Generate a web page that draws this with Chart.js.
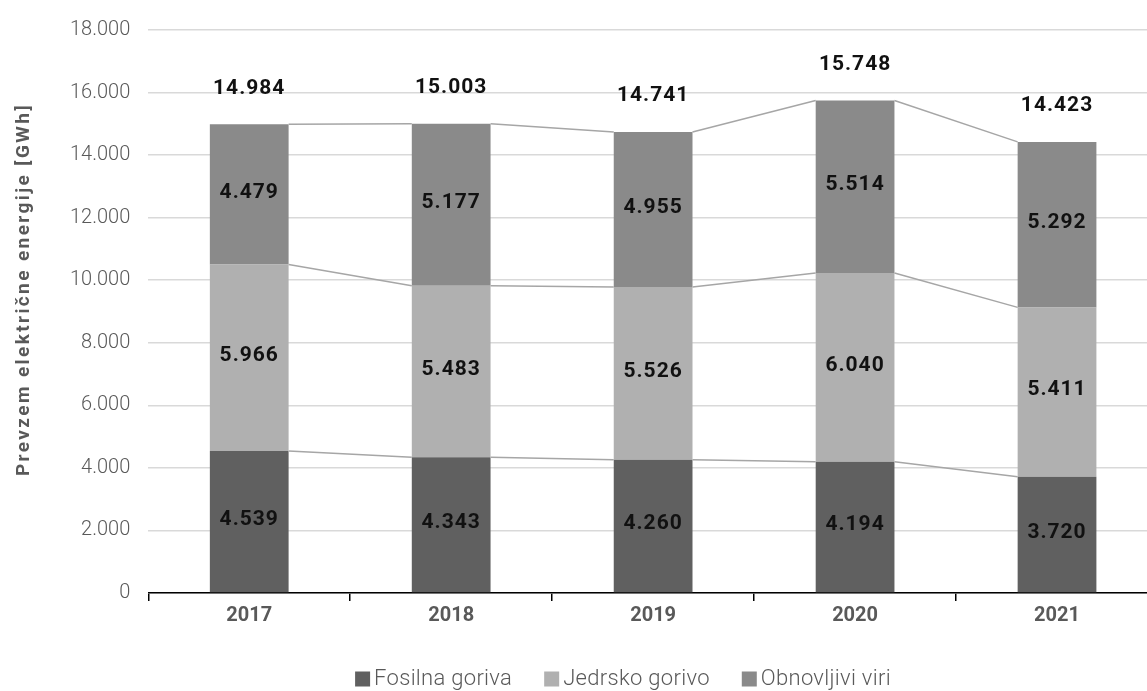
<!DOCTYPE html>
<html>
<head>
<meta charset="utf-8">
<script src="https://cdn.jsdelivr.net/npm/chart.js@4.4.0/dist/chart.umd.min.js"></script>
<style>
  html, body { margin: 0; padding: 0; background: #fff; overflow: hidden; }
  #wrap { width: 1158px; height: 691px; }
</style>
</head>
<body>
<div id="wrap"><canvas id="myChart"></canvas></div>
<script>
var years = ["2017", "2018", "2019", "2020", "2021"];
var fosilna = [4539, 4343, 4260, 4194, 3720];
var jedrsko = [5966, 5483, 5526, 6040, 5411];
var obnovljivi = [4479, 5177, 4955, 5514, 5292];
var skupaj = [14984, 15003, 14741, 15748, 14423];
var yTitle = 'Prevzem električne energije [GWh]';

function fmt(v) {
  return v.toString().replace(/\B(?=(\d{3})+(?!\d))/g, ".");
}

var fontName = "Roboto";
var grey = '#595959';

// series lines between bars, value labels, axis title and legend
var extras = {
  id: 'extras',
  afterDatasetsDraw: function (chart) {
    var c = chart.ctx;
    var y = chart.scales.y;
    c.save();
    c.strokeStyle = '#a6a6a6';
    c.lineWidth = 1.5;
    var cum = [0, 0, 0, 0, 0];
    chart.data.datasets.forEach(function (ds, di) {
      var meta = chart.getDatasetMeta(di);
      for (var i = 0; i < ds.data.length; i++) cum[i] += ds.data[i];
      for (var i = 0; i < ds.data.length - 1; i++) {
        var a = meta.data[i], b = meta.data[i + 1];
        c.beginPath();
        c.moveTo(a.x + a.width / 2, y.getPixelForValue(cum[i]));
        c.lineTo(b.x - b.width / 2, y.getPixelForValue(cum[i + 1]));
        c.stroke();
      }
    });
    c.fillStyle = '#111';
    c.font = 'bold 21px ' + fontName;
    c.letterSpacing = '1px';
    c.textAlign = 'center';
    c.textBaseline = 'middle';
    chart.data.datasets.forEach(function (ds, di) {
      var meta = chart.getDatasetMeta(di);
      meta.data.forEach(function (bar, i) {
        c.fillText(fmt(ds.data[i]), bar.x, (bar.y + bar.base) / 2 - 2);
      });
    });
    var last = chart.getDatasetMeta(chart.data.datasets.length - 1);
    last.data.forEach(function (bar, i) {
      c.fillText(fmt(skupaj[i]), bar.x, bar.y - 36);
    });

    // y axis title
    c.save();
    c.translate(24, (chart.chartArea.top + chart.chartArea.bottom) / 2 - 22);
    c.rotate(-Math.PI / 2);
    c.fillStyle = grey;
    c.font = 'bold 19px ' + fontName;
    c.letterSpacing = '2.4px';
    c.fillText(yTitle, 0, 0);
    c.restore();

    // legend
    c.font = '300 22px ' + fontName;
    c.letterSpacing = '0.3px';
    c.textAlign = 'left';
    var box = 15, gap = 4, itemGap = 32;
    var items = chart.data.datasets.map(function (ds) {
      return { text: ds.label, color: ds.backgroundColor, w: c.measureText(ds.label).width };
    });
    var total = 0;
    items.forEach(function (it, i) { total += box + gap + it.w + (i ? itemGap : 0); });
    var x = 623 - total / 2;
    var ly = 679;
    items.forEach(function (it) {
      c.fillStyle = it.color;
      c.fillRect(x, ly - box / 2, box, box);
      c.fillStyle = grey;
      c.fillText(it.text, x + box + gap, ly);
      x += box + gap + it.w + itemGap;
    });
    c.restore();
  }
};

var ctx = document.getElementById("myChart").getContext('2d');
var myChart = new Chart(ctx, {
  type: 'bar',
  data: {
    labels: years,
    datasets: [
      { label: 'Fosilna goriva', data: fosilna, backgroundColor: '#606060' },
      { label: 'Jedrsko gorivo', data: jedrsko, backgroundColor: '#b0b0b0' },
      { label: 'Obnovljivi viri', data: obnovljivi, backgroundColor: '#8a8a8a' }
    ]
  },
  plugins: [extras],
  options: {
    responsive: true,
    maintainAspectRatio: false,
    animation: false,
    layout: { padding: { top: 16, right: 0, bottom: 60, left: 52 } },
    datasets: { bar: { barPercentage: 0.39, categoryPercentage: 1.0 } },
    plugins: {
      tooltip: { enabled: false },
      legend: { display: false }
    },
    scales: {
      x: {
        stacked: true,
        grid: { display: true, drawOnChartArea: false, drawTicks: true, tickLength: 8, color: '#000', offset: true, lineWidth: 1.5 },
        border: { display: true, color: '#000', width: 1.5 },
        ticks: { color: grey, padding: 3, font: { family: fontName, size: 20, weight: 'bold' } }
      },
      y: {
        stacked: true,
        min: 0,
        max: 18000,
        grid: { color: '#d9d9d9', lineWidth: 1.5, drawTicks: false },
        border: { display: false },
        ticks: {
          stepSize: 2000,
          padding: 18,
          color: grey,
          font: { family: fontName, size: 20, weight: 300 },
          callback: function (v) { return fmt(v); }
        }
      }
    }
  }
});
</script>
</body>
</html>
